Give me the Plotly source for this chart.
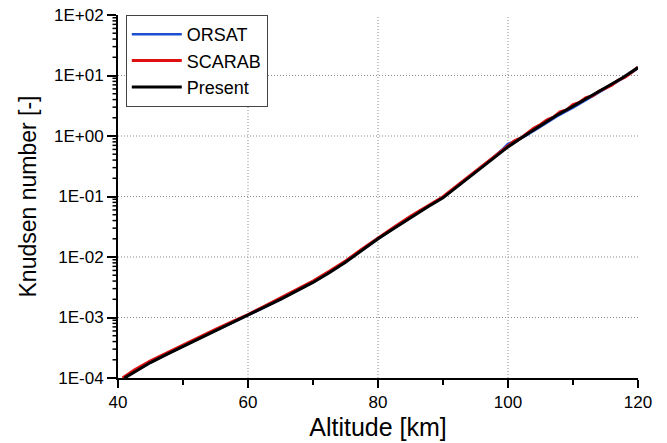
import math
import plotly.graph_objects as go

# ---- data ----
alt_present = [41, 42.5, 45, 47.5, 50, 52.5, 55, 57.5, 60, 62.5, 65, 67.5, 70, 72.5, 75, 77.5,
               80, 82.5, 85, 87.5, 90, 92.5, 95, 97.5, 100, 102.5, 105, 107.5, 110, 112.5,
               115, 117.5, 120]
kn_present = [1.0e-4, 1.25e-4, 1.8e-4, 2.45e-4, 3.3e-4, 4.5e-4, 6.0e-4, 8.0e-4, 1.07e-3,
              1.45e-3, 2.0e-3, 2.75e-3, 3.8e-3, 5.5e-3, 8.2e-3, 1.28e-2, 2.0e-2, 3.0e-2,
              4.5e-2, 6.6e-2, 9.5e-2, 0.155, 0.25, 0.41, 0.66, 1.0, 1.5, 2.2, 3.1, 4.4,
              6.2, 9.0, 13.5]

alt_orsat = [41, 42.5, 45, 47.5, 50, 52.5, 55, 57.5, 60, 62.5, 65, 67.5, 70, 72.5, 75, 77.5,
             80, 82.5, 85, 87.5, 90, 92.5, 95, 97.5, 99, 100, 101, 102.5, 105, 107.5, 110,
             112.5, 115, 117.5, 120]
kn_orsat = [1.0e-4, 1.27e-4, 1.82e-4, 2.48e-4, 3.35e-4, 4.55e-4, 6.05e-4, 8.1e-4, 1.08e-3,
            1.47e-3, 2.02e-3, 2.78e-3, 3.85e-3, 5.6e-3, 8.3e-3, 1.3e-2, 2.02e-2, 3.05e-2,
            4.6e-2, 6.7e-2, 9.7e-2, 0.158, 0.255, 0.42, 0.58, 0.74, 0.82, 0.98, 1.42, 2.1,
            2.95, 4.2, 6.0, 8.8, 13.2]

alt_scarab = [40.7, 42.5, 45, 47.5, 50, 52.5, 55, 57.5, 60, 62.5, 65, 67.5, 70, 72.5, 75,
              77.5, 80, 82.5, 85, 87.5, 90, 92.5, 95, 97.5, 100, 101, 102, 103, 104, 105,
              106, 107, 108, 109, 110, 111, 112, 113, 114, 115, 116, 117, 118, 119, 120]
kn_scarab = [1.0e-4, 1.35e-4, 1.93e-4, 2.62e-4, 3.52e-4, 4.8e-4, 6.4e-4, 8.5e-4, 1.12e-3,
             1.53e-3, 2.1e-3, 2.9e-3, 4.0e-3, 5.8e-3, 8.6e-3, 1.34e-2, 2.08e-2, 3.12e-2,
             4.7e-2, 6.9e-2, 0.099, 0.162, 0.26, 0.43, 0.68, 0.83, 0.93, 1.12, 1.35, 1.55,
             1.85, 2.05, 2.5, 2.7, 3.3, 3.6, 4.3, 4.6, 5.5, 6.2, 7.0, 8.4, 9.4, 11.2, 13.8]

y_tickvals = [1e-4, 1e-3, 1e-2, 1e-1, 1e0, 1e1, 1e2]
y_ticktext = ["1E-04", "1E-03", "1E-02", "1E-01", "1E+00", "1E+01", "1E+02"]
y_gridvals = [1e-3, 1e-2, 1e-1, 1e0, 1e1]
y_minor_mult = [2, 3, 4, 5, 6, 7, 8, 9]
x_tickvals = [40, 60, 80, 100, 120]
x_gridvals = [60, 80, 100]
Y_LOG_RANGE = [-4, 2]

FONT = "Liberation Sans, Arial, sans-serif"
W, H = 667, 443
ML, MR, MT, MB = 118, 29, 15, 65
PLOT_W = W - ML - MR

y_minor = [m * 10.0 ** e for e in range(Y_LOG_RANGE[0], Y_LOG_RANGE[1]) for m in y_minor_mult]

fig = go.Figure()
fig.add_trace(go.Scatter(x=alt_orsat, y=kn_orsat, mode="lines", name="ORSAT",
                         line=dict(color="#1f4fd1", width=2.5)))
fig.add_trace(go.Scatter(x=alt_scarab, y=kn_scarab, mode="lines", name="SCARAB",
                         line=dict(color="#e01010", width=3)))
fig.add_trace(go.Scatter(x=alt_present, y=kn_present, mode="lines", name="Present",
                         line=dict(color="#000000", width=3)))

grid_line = dict(color="#8a8a8a", width=1, dash="1px,2px")
for gx in x_gridvals:
    fig.add_shape(type="line", xref="x", yref="paper", x0=gx, x1=gx, y0=0, y1=1,
                  line=grid_line, layer="below")
for gy in y_gridvals:
    fig.add_shape(type="line", xref="paper", yref="y", x0=0, x1=1, y0=gy, y1=gy,
                  line=grid_line, layer="below")

# minor ticks on the log axis (outside, short) - placed in paper units so they are not clipped
span = Y_LOG_RANGE[1] - Y_LOG_RANGE[0]
for mv in y_minor:
    yp = (math.log10(mv) - Y_LOG_RANGE[0]) / span
    fig.add_shape(type="line", xref="paper", yref="paper", x0=-5.5 / PLOT_W, x1=0, y0=yp, y1=yp,
                  line=dict(color="black", width=1.5), layer="above")

fig.update_layout(
    width=W, height=H,
    margin=dict(l=ML, r=MR, t=MT, b=MB),
    paper_bgcolor="white", plot_bgcolor="white",
    font=dict(family=FONT, color="black", size=17),
    legend=dict(x=0.015, y=1.0, xanchor="left", yanchor="top",
                bgcolor="white", bordercolor="#444", borderwidth=1,
                font=dict(family=FONT, size=18), tracegroupgap=0, itemwidth=50),
    showlegend=True,
)

fig.update_xaxes(
    range=[40, 120], tickvals=x_tickvals, automargin=False,
    showline=True, linecolor="black", linewidth=2,
    ticks="outside", ticklen=8, tickwidth=2, tickcolor="black",
    minor=dict(dtick=10, ticks="outside", ticklen=5, tickwidth=2, tickcolor="black", showgrid=False),
    showgrid=False, zeroline=False, tickfont=dict(size=17),
    title=dict(text="Altitude [km]", font=dict(size=25), standoff=7),
)

fig.update_yaxes(
    type="log", range=Y_LOG_RANGE, tickvals=y_tickvals, ticktext=y_ticktext, automargin=False,
    showline=True, linecolor="black", linewidth=2,
    ticks="outside", ticklen=9, tickwidth=2, tickcolor="black",
    showgrid=False, zeroline=False, tickfont=dict(size=17),
    title=dict(text="Knudsen number [-]", font=dict(size=23), standoff=11),
)

fig.write_html("out.html")
